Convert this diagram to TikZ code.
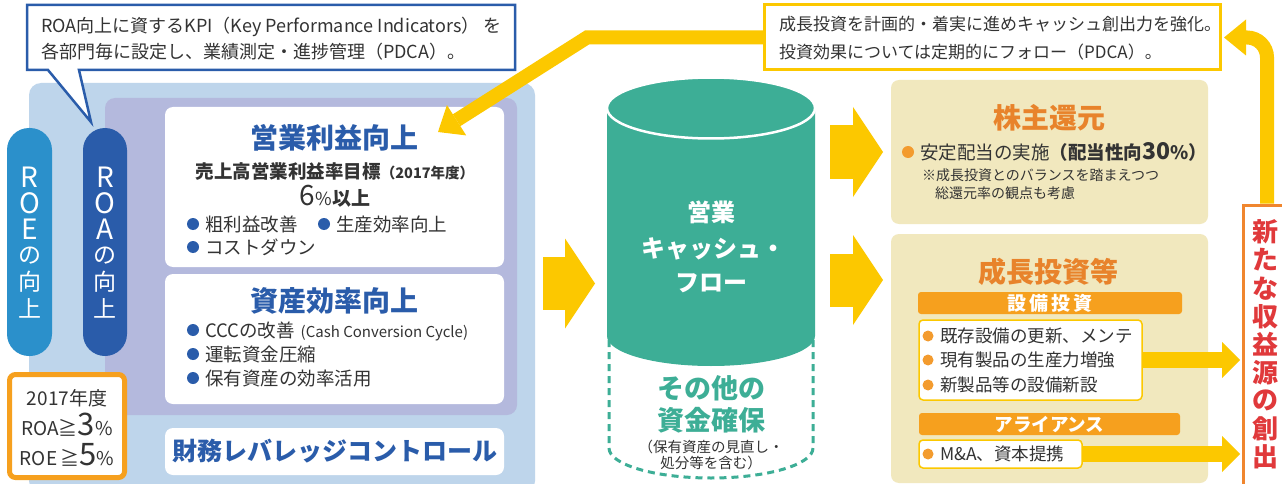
\documentclass[tikz,border=0pt]{standalone}
\usepackage{fontspec}
\setmainfont{Noto Sans CJK JP}
\usetikzlibrary{arrows.meta}
\definecolor{txt}{HTML}{333333}
\definecolor{dblue}{HTML}{2A5CAA}
\definecolor{lblue}{HTML}{2B90CB}
\definecolor{panelc}{HTML}{BED5EB}
\definecolor{lav}{HTML}{B4B9DD}
\definecolor{tealc}{HTML}{3DAE96}
\definecolor{yel}{HTML}{FCC800}
\definecolor{obar}{HTML}{F6A01E}
\definecolor{otitle}{HTML}{E8832B}
\definecolor{beige}{HTML}{F1E8BE}
\definecolor{redt}{HTML}{E0393B}
\definecolor{redb}{HTML}{F0862E}
\definecolor{obul}{HTML}{F39B2E}
\newcommand\fsz[1]{\fontsize{#1}{#1}\selectfont}
\begin{document}
\begin{tikzpicture}[x=1pt,y=-1pt,
  rbox/.style n args={2}{minimum width=#1,minimum height=#2,inner sep=0pt,outer sep=0pt},
  tx/.style={inner sep=0pt,outer sep=0pt,text=txt},
  btitle/.style={tx,anchor=base,font=\bfseries\fsz{28},text=dblue},
  otit/.style={tx,anchor=base,font=\bfseries\fsz{28},text=otitle},
  bl/.style={tx,anchor=base west,font=\fsz{18.5}},
  chev/.style={draw=yel,line width=53pt,-{Triangle[width=90pt,length=30pt,line width=0pt]}},
  flowarrow/.style={draw=yel,line width=16pt,-{Triangle[width=36pt,length=18pt,line width=0pt]}},
  linkarrow/.style={draw=yel,line width=14pt,-{Triangle[width=36pt,length=22pt,line width=0pt]}},
]
\clip (0,0) rectangle (1282,484);
\fill[white] (0,0) rectangle (1282,484);

% ---------- left panel ----------
\node[rbox={506pt}{410pt},fill=panelc,rounded corners=12pt] (panel) at (282,288) {};
\node[rbox={412pt}{317pt},fill=lav,rounded corners=10pt] (lav) at (311,256.5) {};
\node[rbox={339pt}{160pt},fill=white,rounded corners=8pt] (b1) at (334.5,187) {};
\node[rbox={339pt}{130pt},fill=white,rounded corners=8pt] (b2) at (334.5,339) {};
\node[rbox={339pt}{47pt},fill=white,rounded corners=8pt] (fin) at (334.5,451.5) {};

% pills
\node[rbox={45pt}{228pt},fill=lblue,rounded corners=22pt] (roe) at (29.5,242) {};
\node[rbox={44pt}{228pt},fill=dblue,rounded corners=22pt] (roa) at (105,242) {};
\foreach \c/\s [count=\i from 0] in {R/28,O/28,E/28,の/23,向/23,上/23}{
  \node[inner sep=0pt,text=white,font=\fsz{\s}] (roe\i) at (29.5,177+26.3*\i) {\c};
}
\foreach \c/\s [count=\i from 0] in {R/28,O/28,A/28,の/23,向/23,上/23}{
  \node[inner sep=0pt,text=white,font=\fsz{\s}] (roa\i) at (105,177+26.3*\i) {\c};
}

% orange target box
\node[rbox={115pt}{103pt},draw=obar,line width=5pt,fill=white,rounded corners=6pt] (ob) at (67,426) {};
\node[tx,anchor=base,font=\fsz{19}] (ob1) at (67,405) {2017年度};
\node[tx,anchor=base,font=\fsz{19}] (ob2) at (67,435) {ROA≧{\fsz{31}3}\%};
\node[tx,anchor=base,font=\fsz{19}] (ob3) at (67,465) {ROE\,≧{\fsz{31}5}\%};

% box 1
\node[btitle] (t1t) at (334.5,148.6) {営業利益向上};
\node[tx,anchor=base,font=\bfseries\fsz{18.5}] (t1s) at (335,178) {売上高営業利益率目標{\fsz{14.5}（2017年度）}};
\node[tx,anchor=base,font=\fsz{19}] (t1p) at (335,205) {{\fsz{28}6}{\fsz{18}\%}{\bfseries 以上}};
\fill[dblue] (193,224) circle (6pt);
\fill[dblue] (324,224) circle (6pt);
\fill[dblue] (193,247) circle (6pt);
\node[bl] (t1b1) at (205,231) {粗利益改善};
\node[bl] (t1b2) at (336,231) {生産効率向上};
\node[bl] (t1b3) at (205,254) {コストダウン};

% box 2
\node[btitle] (t2t) at (334.5,311.6) {資産効率向上};
\fill[dblue] (193,330) circle (6pt);
\fill[dblue] (193,354) circle (6pt);
\fill[dblue] (193,378) circle (6pt);
\node[bl] (t2b1) at (205,337) {CCCの改善\hspace{6pt}{\fsz{15}(Cash Conversion Cycle)}};
\node[bl] (t2b2) at (205,361) {運転資金圧縮};
\node[bl] (t2b3) at (205,385) {保有資産の効率活用};

% financial leverage
\node[tx,anchor=base,font=\bfseries\fsz{25},text=dblue] (fint) at (334.5,460.5) {財務レバレッジコントロール};

% left callout
\draw[dblue,line width=2.5pt,fill=white,line join=miter] (27,5) -- (515,5) -- (515,70) -- (79,70) -- (91,122) -- (48,70) -- (27,70) -- cycle;
\node[tx,anchor=base west,font=\fsz{18}] (c1a) at (41,32.8) {ROA向上に資するKPI（Key Performance Indicators） を};
\node[tx,anchor=base west,font=\fsz{18}] (c1b) at (41,58.8) {各部門毎に設定し、業績測定・進捗管理（PDCA）。};

% ---------- cylinder ----------
\node[rbox={208pt}{400pt}] (cyl) at (711,283.5) {};
\draw[tealc,line width=3pt,dash pattern=on 7pt off 5pt]
  (609,340) -- (609,448) .. controls (609,464.6) and (654.7,478) .. (711,478)
  .. controls (767.3,478) and (813,464.6) .. (813,448) -- (813,340);
\fill[tealc] (607,108) -- (607,336) .. controls (607,352.6) and (653.6,366) .. (711,366)
  .. controls (768.4,366) and (815,352.6) .. (815,336) -- (815,108) -- cycle;
\draw[fill=tealc,draw=white,line width=2.5pt] (711,108) ellipse [x radius=104pt,y radius=30.5pt];
\node[tx,anchor=base,font=\bfseries\fsz{24},text=white] (cy1) at (711,221) {営業};
\node[tx,anchor=base,font=\bfseries\fsz{24},text=white] (cy2) at (713,257) {キャッシュ・};
\node[tx,anchor=base,font=\bfseries\fsz{24},text=white] (cy3) at (711,291) {フロー};
\node[tx,anchor=base,font=\bfseries\fsz{27},text=tealc] (cy4) at (711,398.3) {その他の};
\node[tx,anchor=base,font=\bfseries\fsz{27},text=tealc] (cy5) at (711,430.3) {資金確保};
\node[tx,anchor=base,font=\fsz{14.5}] (cy6) at (711,452.5) {（保有資産の見直し・};
\node[tx,anchor=base,font=\fsz{14.5}] (cy7) at (711,468.5) {処分等を含む）};

% ---------- right side ----------
\node[rbox={456pt}{65pt},draw=yel,line width=3pt,fill=white] (cr) at (992,37.5) {};
\node[tx,anchor=base west,font=\fsz{17}] (cra) at (779,30.8) {成長投資を計画的・着実に進めキャッシュ創出力を強化。};
\node[tx,anchor=base west,font=\fsz{17}] (crb) at (779,59) {投資効果については定期的にフォロー（PDCA）。};

\node[rbox={317pt}{144pt},fill=beige,rounded corners=8pt] (sh) at (1049.5,152) {};
\node[otit] (sht) at (1049,128.6) {株主還元};
\fill[obul] (908,152) circle (6pt);
\node[tx,anchor=base west,font=\fsz{18.5}] (shb) at (920,159.2) {安定配当の実施{\bfseries （配当性向{\fsz{23}30}\%）}};
\node[tx,anchor=base west,font=\fsz{14}] (shn1) at (922,180.3) {※成長投資とのバランスを踏まえつつ};
\node[tx,anchor=base west,font=\fsz{14}] (shn2) at (935,198.3) {総還元率の観点も考慮};

\node[rbox={317pt}{249pt},fill=beige,rounded corners=8pt] (gi) at (1049.5,358.5) {};
\node[otit] (git) at (1048,282.6) {成長投資等};
\node[rbox={264pt}{22pt},fill=obar,rounded corners=3pt,font=\bfseries\fsz{19},text=white] (bar1) at (1050,303) {設\,備\,投\,資};
\node[rbox={223pt}{80pt},draw=yel,line width=1.5pt,fill=white,rounded corners=4pt] (wb) at (1030.5,360) {};
\fill[obul] (928,336) circle (5.5pt);
\fill[obul] (928,360) circle (5.5pt);
\fill[obul] (928,385) circle (5.5pt);
\node[tx,anchor=base west,font=\fsz{17.5}] (wb1) at (940,342.6) {既存設備の更新、メンテ};
\node[tx,anchor=base west,font=\fsz{17.5}] (wb2) at (940,366.6) {現有製品の生産力増強};
\node[tx,anchor=base west,font=\fsz{17.5}] (wb3) at (940,391.6) {新製品等の設備新設};
\node[rbox={261pt}{22pt},fill=obar,rounded corners=3pt,font=\bfseries\fsz{18.5},text=white] (bar2) at (1049.5,424) {アライアンス};
\node[rbox={163pt}{28pt},draw=yel,line width=1.5pt,fill=white,rounded corners=4pt] (mb) at (1000.5,454) {};
\fill[obul] (928,454) circle (5.5pt);
\node[tx,anchor=base west,font=\fsz{17.5}] (mb1) at (940,460.6) {M\&A、資本提携};

% red box
\node[rbox={54pt}{295pt},draw=redb,line width=3pt,fill=white] (rb) at (1270,352.5) {};
\foreach \c [count=\i from 0] in {新,た,な,収,益,源,の,創,出}{
  \node[inner sep=0pt,text=redt,font=\bfseries\fsz{26}] (rt\i) at (1265,232+28.1*\i) {\c};
}

% ---------- arrows ----------
\coordinate (giin) at (891,280);
\coordinate (bend) at (587,37.5);
\coordinate (tipb1) at (438,132);
\draw[chev,shorten <=8pt,shorten >=12pt] (panel.east |- cyl.center) -- (cyl.west);
\draw[chev,shorten <=15pt,shorten >=8pt] (cyl.east |- sh.west) -- (sh.west);
\draw[chev,shorten <=15pt,shorten >=8pt] (cyl.east |- giin) -- (giin);
\draw[flowarrow,shorten >=3pt] (wb.east) -- (rb.west |- wb.east);
\draw[flowarrow,shorten >=3pt] (mb.east) -- (rb.west |- mb.east);
\draw[linkarrow,line join=miter] (cr.west) -- (bend) -- (tipb1);
\draw[linkarrow,rounded corners=20pt,shorten <=1.5pt] ([xshift=-3pt]rb.north) |- ([xshift=4pt]cr.east);
\end{tikzpicture}
\end{document}
